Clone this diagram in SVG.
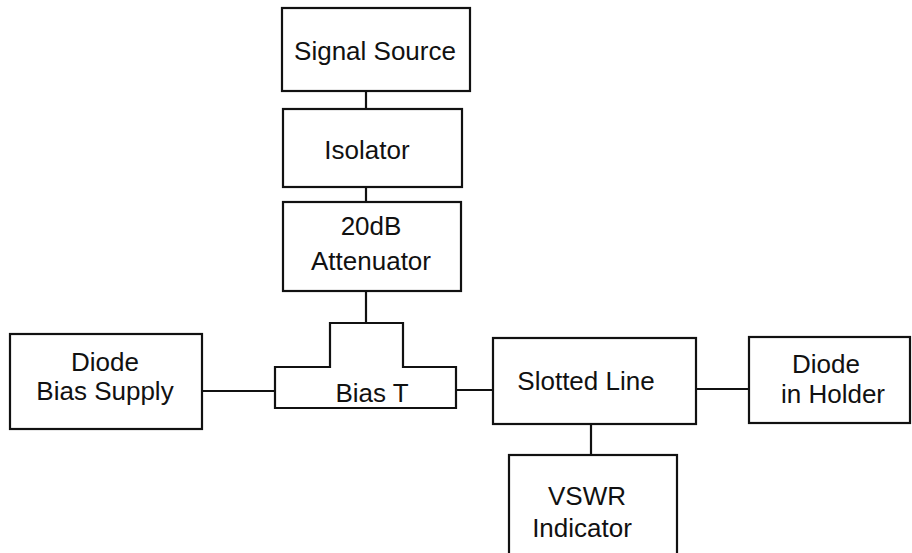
<svg xmlns="http://www.w3.org/2000/svg" width="912" height="553" viewBox="0 0 912 553">
<style>
.b{fill:#fff;stroke:#111;stroke-width:2.2}
.c{fill:none;stroke:#111;stroke-width:2.2}
text{font-family:"Liberation Sans",Arial,sans-serif;font-size:26px;fill:#111;text-anchor:middle}
</style>
<rect width="912" height="553" fill="#fff"/>
<g id="connectors">
<line class="c" x1="366" y1="91" x2="366" y2="109"/>
<line class="c" x1="366" y1="187" x2="366" y2="202"/>
<line class="c" x1="366" y1="291" x2="366" y2="323"/>
<line class="c" x1="202" y1="391" x2="275" y2="391"/>
<line class="c" x1="456" y1="390" x2="493" y2="390"/>
<line class="c" x1="696" y1="389" x2="749" y2="389"/>
<line class="c" x1="591" y1="424" x2="591" y2="455"/>
</g>
<g id="signal-source">
<rect class="b" x="282" y="8" width="188" height="83"/>
<text x="375" y="60">Signal Source</text>
</g>
<g id="isolator">
<rect class="b" x="283" y="109" width="179" height="78"/>
<text x="367" y="159">Isolator</text>
</g>
<g id="attenuator">
<rect class="b" x="283" y="202" width="178" height="89"/>
<text x="371" y="235">20dB</text>
<text x="371" y="270">Attenuator</text>
</g>
<g id="diode-bias-supply">
<rect class="b" x="10" y="334" width="192" height="95"/>
<text x="105" y="371">Diode</text>
<text x="105" y="400">Bias Supply</text>
</g>
<g id="bias-t">
<path class="b" d="M275,367 H330 V323 H403 V367 H456 V408 H275 Z"/>
<text x="372" y="402">Bias T</text>
</g>
<g id="slotted-line">
<rect class="b" x="493" y="338" width="203" height="86"/>
<text x="586" y="390">Slotted Line</text>
</g>
<g id="diode-in-holder">
<rect class="b" x="749" y="337" width="161" height="86"/>
<text x="826" y="373">Diode</text>
<text x="833" y="403">in Holder</text>
</g>
<g id="vswr-indicator">
<rect class="b" x="509" y="455" width="168" height="110"/>
<text x="587" y="505">VSWR</text>
<text x="582" y="537">Indicator</text>
</g>
</svg>
